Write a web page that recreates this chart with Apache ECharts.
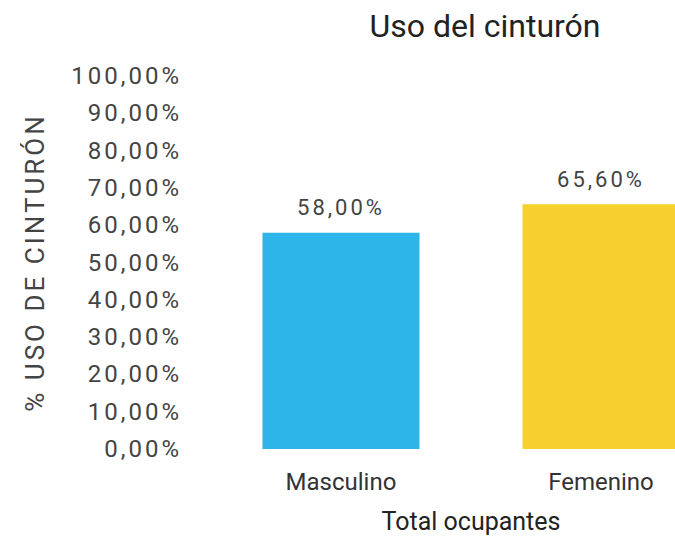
<!DOCTYPE html>
<html>
<head>
<meta charset="utf-8">
<script src="https://cdn.jsdelivr.net/npm/echarts@6/dist/echarts.min.js"></script>
<style>
  html, body { margin: 0; padding: 0; background: #fff; }
  #chart { width: 675px; height: 537px; }
  /* texto espaciado (ejes y etiquetas) */
  #chart text[style*="Arial"], #chart text[font-family*="Arial"] { letter-spacing: 3px; }
</style>
</head>
<body>
<div id="chart"></div>
<script>
const categorias = ['Masculino', 'Femenino'];
const usoCinturon = [58.0, 65.6];
const coloresBarras = ['#2DB4E8', '#F6D02D'];

const formatoPct = v => v.toFixed(2).replace('.', ',') + '%';

const myChart = echarts.init(document.getElementById('chart'), null, { renderer: 'svg' });

const option = {
  backgroundColor: '#fff',
  title: {
    text: 'Uso del cinturón',
    left: 480,
    top: 5,
    textAlign: 'center',
    textStyle: { fontFamily: 'Roboto', fontSize: 32, fontWeight: 'normal', color: '#222' }
  },
  grid: { left: 211, top: 76, width: 520, height: 373, outerBoundsMode: 'none' },
  xAxis: {
    type: 'category',
    data: categorias,
    name: 'Total ocupantes',
    nameLocation: 'middle',
    nameGap: 60,
    nameTextStyle: { fontFamily: 'Roboto', fontSize: 25, color: '#222' },
    axisLine: { show: false },
    axisTick: { show: false },
    axisLabel: { fontFamily: 'Roboto', fontSize: 24, color: '#333', margin: 21 }
  },
  yAxis: {
    type: 'value',
    min: 0,
    max: 100,
    interval: 10,
    name: '% USO DE CINTURÓN',
    nameLocation: 'middle',
    nameGap: 163,
    nameRotate: 90,
    nameTextStyle: { fontFamily: 'Roboto, Arial', fontSize: 26, color: '#444' },
    splitLine: { show: false },
    axisLine: { show: false },
    axisTick: { show: false },
    axisLabel: {
      fontFamily: 'Roboto, Arial',
      fontSize: 24,
      color: '#444',
      margin: 29,
      formatter: v => formatoPct(v)
    }
  },
  series: [{
    type: 'bar',
    barWidth: 157,
    data: usoCinturon.map((v, i) => ({ value: v, itemStyle: { color: coloresBarras[i] } })),
    label: {
      show: true,
      position: 'top',
      distance: 14,
      fontFamily: 'Roboto, Arial',
      fontSize: 22,
      color: '#444',
      formatter: p => formatoPct(p.value)
    }
  }]
};

myChart.setOption(option);
</script>
</body>
</html>
